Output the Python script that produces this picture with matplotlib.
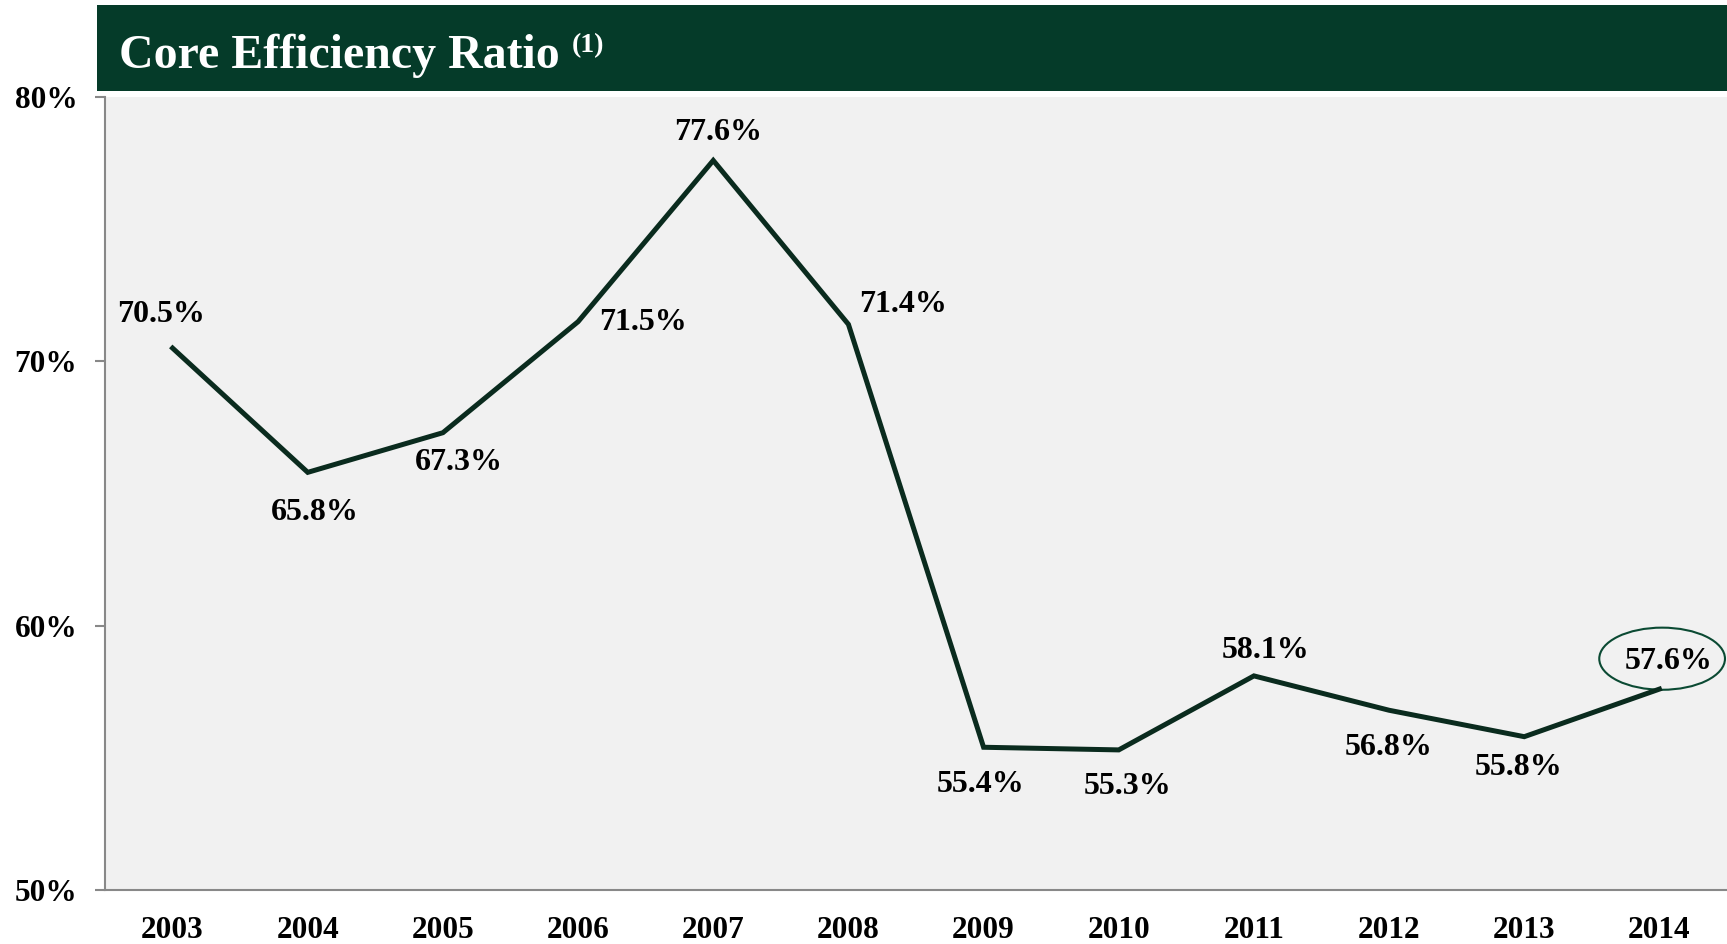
import matplotlib.pyplot as plt
from matplotlib.patches import Rectangle, Ellipse

# Core efficiency ratio by year (percent)
years = ['2003', '2004', '2005', '2006', '2007', '2008',
         '2009', '2010', '2011', '2012', '2013', '2014']
ratio = [70.5, 65.8, 67.3, 71.5, 77.6, 71.4, 55.4, 55.3, 58.1, 56.8, 55.8, 57.6]
labels = ['70.5%', '65.8%', '67.3%', '71.5%', '77.6%', '71.4%',
          '55.4%', '55.3%', '58.1%', '56.8%', '55.8%', '57.6%']
# label offsets in pixels from each point
offsets = [(-12, 34), (7, -40), (16, -30), (65, -1), (5, 28), (55, 20),
           (-3, -37), (9, -37), (12, 25), (0, -37), (-6, -31), (9, 28)]

serif = 'Liberation Serif'
green = '#053b29'
line_col = '#0a2b1e'

fig = plt.figure(figsize=(17.27, 9.44), dpi=100)
ax = fig.add_axes([105 / 1727, 54 / 944, 1 - 105 / 1727, 793 / 944])
ax.set_facecolor('#f1f1f1')

x = list(range(len(years)))
ax.plot(x, ratio, color=line_col, linewidth=3.6, solid_joinstyle='miter')

for i, (v, lab) in enumerate(zip(ratio, labels)):
    dx, dy = offsets[i]
    ax.annotate(lab, (i, v), xytext=(dx * 0.72, dy * 0.72), textcoords='offset points',
                ha='center', va='center', fontsize=23, fontweight='bold',
                family=serif, color='black')

# ellipse around the latest value
ax.add_patch(Ellipse((x[-1] + 0.02, ratio[-1] + 1.15), 0.93, 2.35, fill=False,
                     edgecolor='#0b4a33', linewidth=1.5, clip_on=False))

ax.set_xlim(-0.5, 11.5)
ax.set_ylim(50, 80)
ax.set_yticks([50, 60, 70, 80])
ax.set_yticklabels(['50%', '60%', '70%', '80%'])
ax.set_xticks(x)
ax.set_xticklabels(years)
for t in ax.get_xticklabels() + ax.get_yticklabels():
    t.set_fontfamily(serif)
    t.set_fontweight('bold')
    t.set_fontsize(22.5)
ax.tick_params(axis='y', length=7, width=1.5, color='#888888', pad=13)
ax.tick_params(axis='x', length=0, pad=19)
for s in ['top', 'right']:
    ax.spines[s].set_visible(False)
for s in ['left', 'bottom']:
    ax.spines[s].set_color('#888888')
    ax.spines[s].set_linewidth(1.5)

# title bar
fig.patches.append(Rectangle((97 / 1727, 853 / 944), 1 - 97 / 1727, 86 / 944,
                             transform=fig.transFigure, facecolor=green, edgecolor='none'))
fig.text(119 / 1727, 888 / 944, 'Core Efficiency Ratio', color='white', fontsize=34.5,
         fontweight='bold', family=serif, va='center', ha='left')
fig.text(572 / 1727, 898 / 944, '(1)', color='white', fontsize=20,
         fontweight='bold', family=serif, va='center', ha='left')

fig.savefig('out.png', dpi=100)
